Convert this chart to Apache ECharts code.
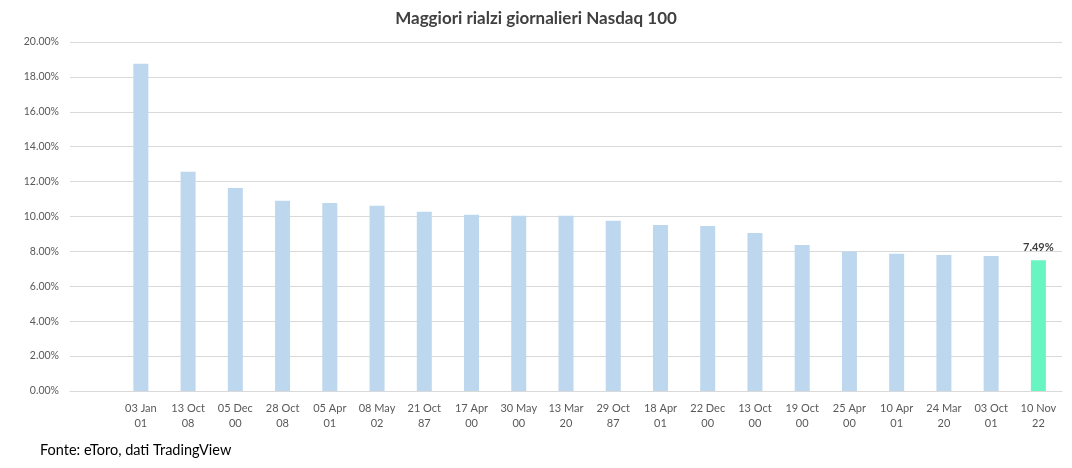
<!DOCTYPE html>
<html><head><meta charset="utf-8">
<script src="https://cdn.jsdelivr.net/npm/echarts@6/dist/echarts.min.js"></script>
<style>html,body{margin:0;padding:0;background:#fff}#c{width:1072px;height:468px}</style>
</head><body><div id="c"></div>
<script>
const categories = ["", "03 Jan\n01","13 Oct\n08","05 Dec\n00","28 Oct\n08","05 Apr\n01","08 May\n02","21 Oct\n87","17 Apr\n00","30 May\n00","13 Mar\n20","29 Oct\n87","18 Apr\n01","22 Dec\n00","13 Oct\n00","19 Oct\n00","25 Apr\n00","10 Apr\n01","24 Mar\n20","03 Oct\n01","10 Nov\n22"];
const values = [null, 18.76, 12.56, 11.64, 10.90, 10.78, 10.61, 10.27, 10.10, 10.04, 10.04, 9.75, 9.52, 9.46, 9.06, 8.37, 7.99, 7.86, 7.80, 7.74, 7.49];
const yTicks = [0, 2, 4, 6, 8, 10, 12, 14, 16, 18, 20];
const highlightIndex = 20;

const font = "Lato, 'Open Sans', sans-serif";
const chart = echarts.init(document.getElementById('c'));
chart.setOption({
  animation: false,
  title: {
    text: 'Maggiori rialzi giornalieri Nasdaq 100',
    left: 'center', top: 5,
    textStyle: {fontFamily: font, fontSize: 17, fontWeight: 'bold', color: '#404040'}
  },
  graphic: [{
    type: 'text', left: 40, top: 443,
    style: {text: 'Fonte: eToro, dati TradingView', fontFamily: font, fontSize: 14.5, fill: '#000'}
  }],
  grid: {left: 70, right: 10, top: 42, bottom: 77, containLabel: false},
  xAxis: {
    type: 'category', data: categories,
    axisLine: {lineStyle: {color: '#d9d9d9'}},
    axisTick: {show: false},
    axisLabel: {interval: 0, fontFamily: font, fontSize: 11, color: '#595959', lineHeight: 15, margin: 10}
  },
  yAxis: {
    type: 'value', min: yTicks[0], max: yTicks[yTicks.length - 1], interval: 2,
    axisLine: {show: false}, axisTick: {show: false},
    splitLine: {lineStyle: {color: '#d9d9d9'}},
    axisLabel: {fontFamily: font, fontSize: 10.5, color: '#595959', margin: 11,
      formatter: v => v.toFixed(2) + '%'}
  },
  series: [{
    type: 'bar', barWidth: 15,
    data: values.map((v, i) => i === highlightIndex ? {
      value: v, itemStyle: {color: '#69f5c2'},
      label: {show: true, position: 'top', formatter: p => p.value.toFixed(2) + '%',
        fontFamily: font, fontSize: 11, fontWeight: 'bold', color: '#404040', distance: 7}
    } : v),
    itemStyle: {color: '#bdd7ee'}
  }]
});
</script></body></html>
